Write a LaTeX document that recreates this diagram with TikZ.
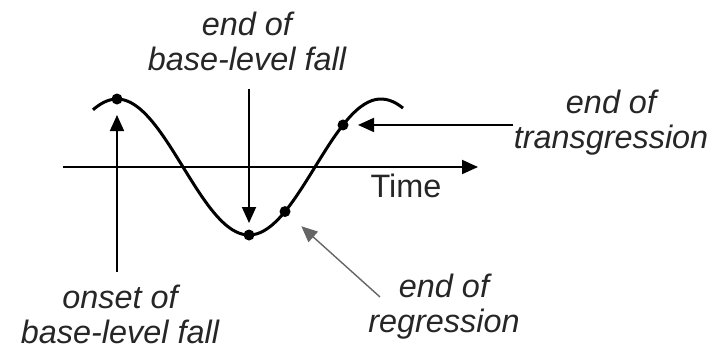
\documentclass[tikz,border=0pt]{standalone}
\usepackage{fontspec}
\setmainfont{Liberation Sans}
\usetikzlibrary{arrows.meta,positioning,calc}

\begin{document}
\begin{tikzpicture}[
  x=0.5pt, y=-0.5pt,
  lbl/.style={font=\fontsize{16.2}{17.5}\selectfont\itshape, align=center,
              text=black!85, inner sep=0pt, anchor=base},
  curve/.style={line width=1.5pt, black},
  axis/.style={line width=1pt, -{Triangle[length=8pt,width=7pt]}},
  arr/.style={line width=0.9pt, -{Triangle[length=8pt,width=7pt]}},
  dot/.style={circle, fill=black, inner sep=0pt, minimum size=5.5pt},
]
  \useasboundingbox (0,0) rectangle (710,350);

  % Time axis and sea-level curve
  \coordinate (a0) at (63,167);
  \coordinate (a1) at (478,167);
  \draw[axis] (a0) -- (a1);
  \draw[curve, domain=93:403, samples=90, smooth]
    plot (\x, {167-68*cos((\x-117)/264*360)});

  % Points on the curve
  \node[dot] (p1) at (117,99) {};
  \node[dot] (p2) at (249,235) {};
  \node[dot] (p3) at (285,{167-68*cos((285-117)/264*360)}) {};
  \node[dot] (p4) at (343,{167-68*cos((343-117)/264*360)}) {};

  % Labels (base = last line)
  \node[lbl, font=\fontsize{16.2}{17.5}\selectfont\upshape] (time) at (406,197) {Time};
  \node[lbl] (fallend) at (247,70) {end of\\base-level fall};
  \node[lbl] (onset) at (120,343) {onset of\\base-level fall};
  \node[lbl] (transend) at (611,148) {end of\\transgression};
  \node[lbl] (regend) at (444,332) {end of\\regression};
  \coordinate (regtail) at (380,297);

  % Arrows
  \draw[arr, shorten <=6pt, shorten >=8pt] (onset.north -| p1) -- (p1.center);
  \draw[arr, shorten <=9pt, shorten >=6pt] (fallend.south -| p2) -- (p2.center);
  \draw[arr, shorten >=7.5pt] (transend.west |- p4) -- (p4.center);
  \draw[arr, black!60, line width=0.7pt, shorten >=11pt] (regtail) -- (p3.center);

\end{tikzpicture}
\end{document}
